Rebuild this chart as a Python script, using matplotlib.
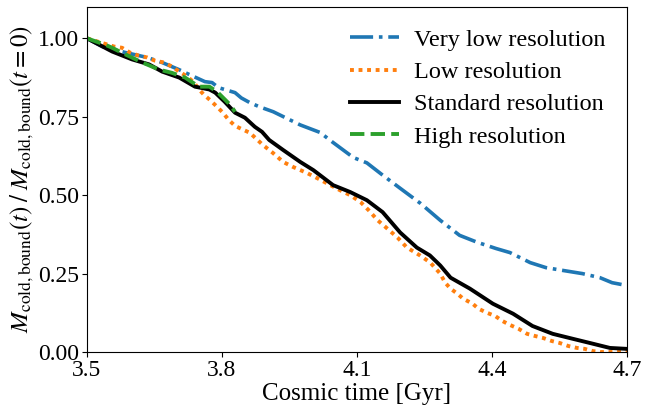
import matplotlib
matplotlib.use('Agg')
import matplotlib.pyplot as plt

plt.rcParams['font.family'] = ['Liberation Serif', 'DejaVu Serif']
plt.rcParams['mathtext.fontset'] = 'stix'

# --- values ---
t_vlow = [3.5, 3.534, 3.585, 3.634, 3.667, 3.705, 3.727, 3.762, 3.778, 3.792, 3.829,
          3.843, 3.862, 3.883, 3.914, 3.974, 4.018, 4.045, 4.092, 4.122, 4.157, 4.196,
          4.241, 4.285, 4.328, 4.367, 4.409, 4.44, 4.485, 4.52, 4.558, 4.601, 4.64,
          4.667, 4.7]
m_vlow = [1.0, 0.974, 0.955, 0.939, 0.923, 0.90, 0.885, 0.862, 0.859, 0.843, 0.827,
          0.81, 0.795, 0.782, 0.766, 0.724, 0.70, 0.67, 0.62, 0.603, 0.564, 0.522,
          0.474, 0.42, 0.372, 0.35, 0.33, 0.317, 0.285, 0.269, 0.26, 0.25, 0.237,
          0.221, 0.212]

t_low = [3.5, 3.56, 3.578, 3.595, 3.615, 3.634, 3.651, 3.671, 3.689, 3.705, 3.723,
         3.738, 3.749, 3.76, 3.773, 3.789, 3.802, 3.815, 3.829, 3.848, 3.862, 3.891,
         3.913, 3.936, 3.958, 3.99, 4.012, 4.041, 4.062, 4.085, 4.108, 4.126, 4.146,
         4.167, 4.19, 4.211, 4.24, 4.263, 4.285, 4.296, 4.308, 4.323, 4.336, 4.357,
         4.37, 4.389, 4.407, 4.423, 4.439, 4.459, 4.478, 4.496, 4.513, 4.533, 4.55,
         4.57, 4.589, 4.606, 4.624, 4.641, 4.7]
m_low = [1.0, 0.974, 0.97, 0.955, 0.945, 0.939, 0.929, 0.923, 0.91, 0.894, 0.878,
         0.859, 0.837, 0.82, 0.804, 0.782, 0.763, 0.74, 0.721, 0.708, 0.699, 0.66,
         0.635, 0.606, 0.59, 0.57, 0.554, 0.532, 0.516, 0.50, 0.478, 0.452, 0.42,
         0.394, 0.365, 0.333, 0.308, 0.285, 0.25, 0.221, 0.202, 0.186, 0.17, 0.154,
         0.138, 0.125, 0.115, 0.099, 0.087, 0.074, 0.058, 0.051, 0.045, 0.035, 0.029,
         0.019, 0.013, 0.01, 0.003, 0.0, 0.0]

t_std = [3.5, 3.556, 3.6, 3.638, 3.667, 3.705, 3.74, 3.772, 3.785, 3.806, 3.829,
         3.851, 3.873, 3.889, 3.905, 3.936, 3.974, 4.003, 4.047, 4.085, 4.122, 4.157,
         4.196, 4.233, 4.262, 4.285, 4.308, 4.351, 4.402, 4.447, 4.49, 4.535, 4.58,
         4.617, 4.662, 4.7]
m_std = [1.0, 0.958, 0.933, 0.917, 0.894, 0.875, 0.846, 0.837, 0.827, 0.798, 0.763,
         0.747, 0.718, 0.702, 0.676, 0.644, 0.606, 0.58, 0.532, 0.51, 0.484, 0.446,
         0.381, 0.333, 0.308, 0.276, 0.237, 0.202, 0.154, 0.122, 0.083, 0.058, 0.042,
         0.029, 0.013, 0.01]

t_high = [3.5, 3.54, 3.556, 3.585, 3.623, 3.661, 3.689, 3.718, 3.749, 3.772, 3.789,
          3.817, 3.829]
m_high = [1.0, 0.98, 0.97, 0.949, 0.923, 0.90, 0.89, 0.875, 0.846, 0.846, 0.83,
          0.79, 0.766]

xticks = [3.5, 3.8, 4.1, 4.4, 4.7]
yticks = [0.0, 0.25, 0.5, 0.75, 1.0]

fig = plt.figure(figsize=(6.55, 4.07), dpi=100)
ax = fig.add_axes([0.1328, 0.1351, 0.8244, 0.8477])

ax.plot(t_vlow, m_vlow, color='#1f77b4', ls='-.', lw=2.6, label='Very low resolution')
ax.plot(t_low, m_low, color='#ff7f0e', lw=2.8, dashes=(1, 1.2), label='Low resolution')
ax.plot(t_std, m_std, color='black', ls='-', lw=2.8, label='Standard resolution')
ax.plot(t_high, m_high, color='#2ca02c', ls='--', lw=2.8, label='High resolution')

ax.set_xlim(3.5, 4.7)
ax.set_ylim(0, 1.1)
ax.set_xticks(xticks)
ax.set_yticks(yticks)
ax.set_xticklabels([f'{v:.1f}' for v in xticks])
ax.set_yticklabels([f'{v:.2f}' for v in yticks])
ax.tick_params(labelsize=17, pad=2.5)

ax.set_xlabel('Cosmic time [Gyr]', fontsize=18, labelpad=1)
ax.set_ylabel(r'$M_{\rm cold,bound}(t)\;/\;M_{\rm cold,bound}(t=0)$', fontsize=18, labelpad=1)

ax.legend(loc='upper right', frameon=False, fontsize=17.5, handlelength=2.0,
          handletextpad=0.6, borderaxespad=0.5, labelspacing=0.42)

fig.savefig('out.png', dpi=100)
